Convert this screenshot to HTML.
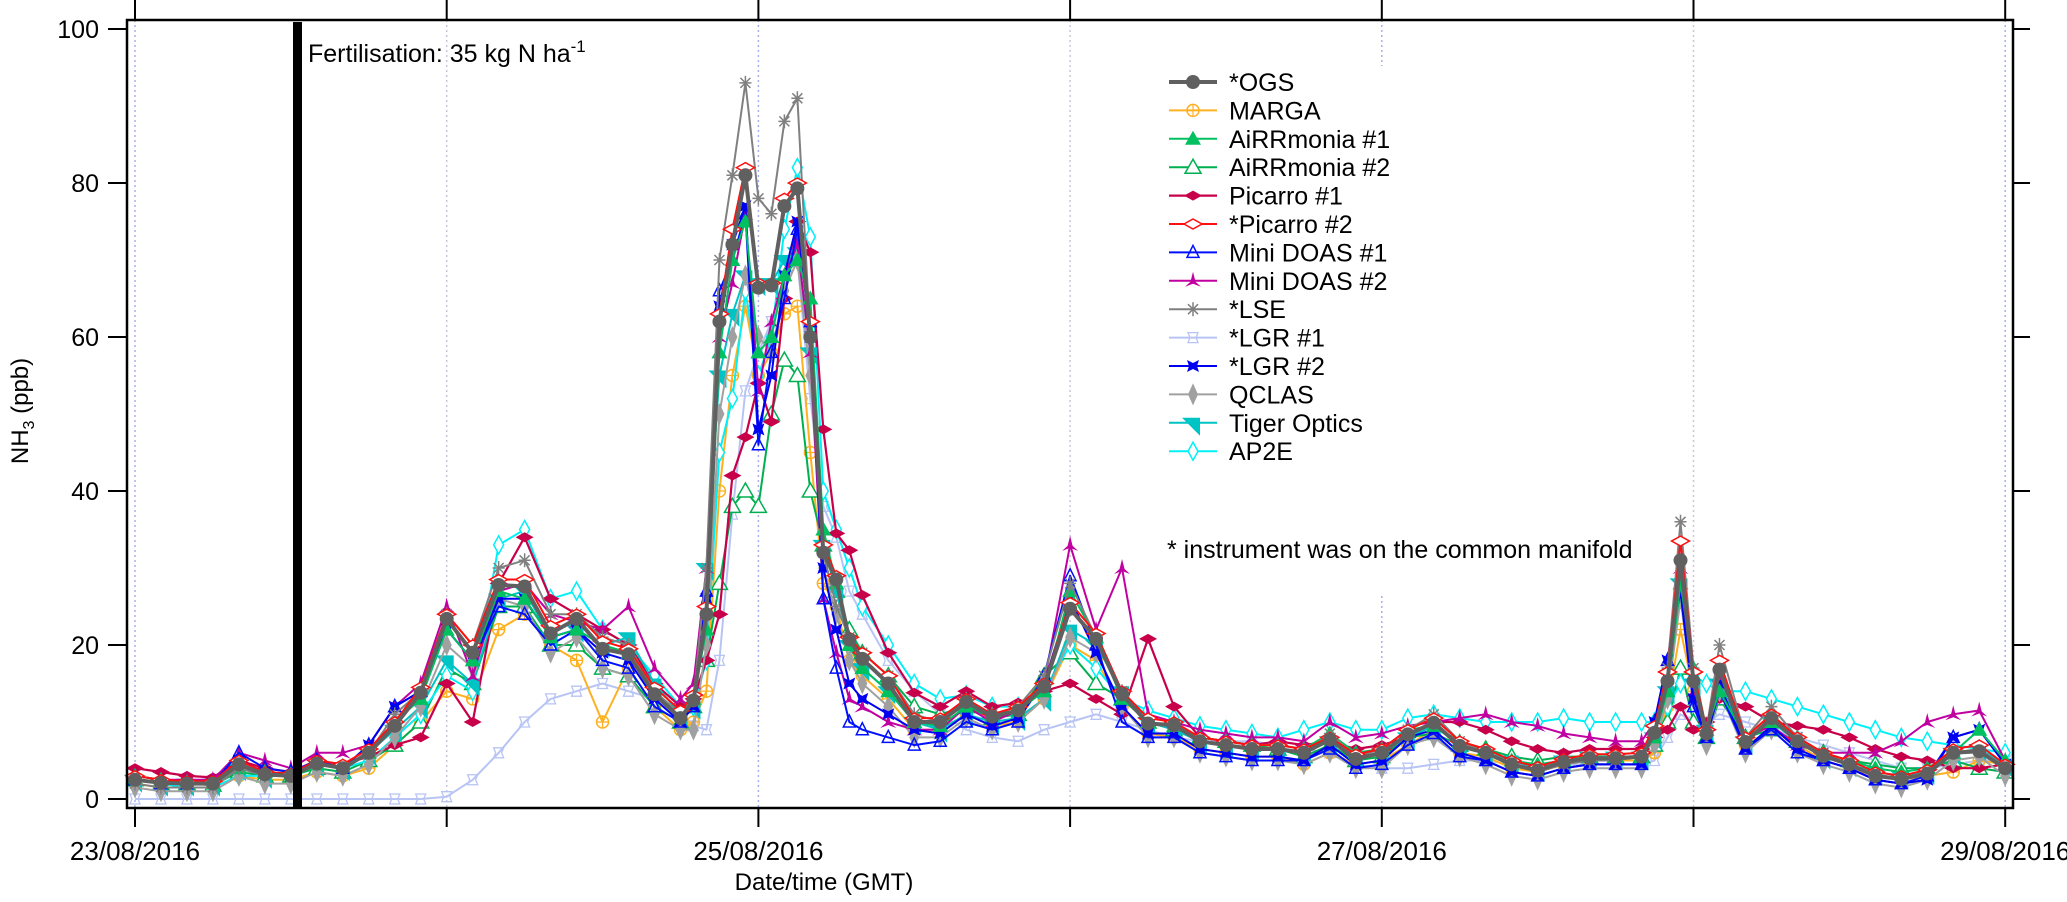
<!DOCTYPE html>
<html>
<head>
<meta charset="utf-8">
<style>
  html,body{margin:0;padding:0;background:#fff;}
  svg{display:block;}
  text{font-family:"Liberation Sans",Arial,sans-serif;fill:#000;}
</style>
</head>
<body>
<svg id="chart" width="2067" height="902" viewBox="0 0 2067 902" xmlns="http://www.w3.org/2000/svg">
  <g id="grid"></g>
  <g id="series"></g>
  <rect x="127" y="20" width="1886" height="788" fill="none" stroke="#000" stroke-width="2.5"/>
  <g id="axes"></g>
  <rect x="293" y="22" width="9" height="786" fill="#000"/>
  <text x="308" y="62" font-size="25">Fertilisation: 35 kg N ha<tspan dy="-10" font-size="17">-1</tspan></text>
  <text x="824" y="890" font-size="24" text-anchor="middle">Date/time (GMT)</text>
  <text transform="translate(28,411) rotate(-90)" font-size="24" text-anchor="middle">NH<tspan dy="6" font-size="16">3</tspan><tspan dy="-6"> (ppb)</tspan></text>
  <g id="legend"></g>
  <text x="1167" y="558" font-size="25">* instrument was on the common manifold</text>
</svg>
<script>
// ---- data (hours since 23/08/2016 00:00 GMT) ----
const hours = [0,2,4,6,8,10,12,14,16,18,20,22,24,26,28,30,32,34,36,38,40,42,
  43,44,45,46,47,48,49,50,51,52,53,54,55,56,
  58,60,62,64,66,68,70,72,74,76,78,80,82,84,86,88,90,92,94,96,98,100,102,104,106,108,110,112,114,116,
  117,118,119,120,121,122,
  124,126,128,130,132,134,136,138,140,142,144];
const seriesNames = ["*OGS","MARGA","AiRRmonia #1","AiRRmonia #2","Picarro #1","*Picarro #2","Mini DOAS #1","Mini DOAS #2","*LSE","*LGR #1","*LGR #2","QCLAS","Tiger Optics","AP2E"];
const ogs = [2.5,2.1,2,2,4.5,3.2,3,4.6,4,6,9.5,13.8,23.4,19,27.8,27.6,21.5,23.4,19.5,18.8,13.6,10.5,
  12.8,24,62,72,81,66.4,66.7,77,79.3,60,32,28.5,20.7,18.2,
  15,10,10,12.6,10.7,11.5,14.6,24.7,20.8,13.6,9.8,9.6,7.5,7,6.5,6.5,6,7.7,5.2,6,8.4,9.9,6.9,6,4.5,3.7,4.8,5.3,5.3,5.5,
  8.6,15.3,31,15.3,8.5,16.8,
  7.4,10.5,7.5,5.6,4.5,3,2.6,3.3,6,6.2,4];
const marga = [2,1.5,1.5,1.5,3,2.5,2.5,3.5,3,4,7,10,14,13,22,24,20,18,10,17,12,9,
  10,14,40,55,64,55,58,63,64,45,28,25,18,16,
  13,9,9,11,9.5,10,13,20,18,12,8.5,8,6.5,6,5.5,5.5,4.5,6,4.5,5,7,9,6,5.5,4,3.5,4.5,5,5,5,
  6,12,22,14,9,15,
  7,9,7,5,4,3,2.5,3,3.5,5,4.5];
const airr1 = [3,2.5,2.2,2,4,3.5,3.2,4.5,4.2,6,10,13,22,18,27,26,21,22,20,19,14,11,
  13,22,58,70,75,58,60,68,70,65,35,28,20,17,
  14,10,9.5,12,11,11.5,14,27,21,13,10,9.5,8,7.5,7,7,6.5,8.5,6,6.5,9,9.5,7.5,6.5,5,4.5,5,5.5,5.5,5.5,
  8,14,28,17,9,14,
  8,10,8,6,5,4,3.5,4,6,9,5];
const airr2 = [2.5,2,2,1.8,3.5,3,3,4,3.5,5,7,10,17,15,25,25,20,20,17,16,12,10,
  12,18,28,38,40,38,50,57,55,40,33,27,22,19,
  16,12,11,12,10.5,11,16,19,15,13,10,9,8,7.5,7,6.5,5.5,7,5,5.5,8,8.5,7,6.5,5.5,5,5.5,5.5,5.5,5.5,
  7,10,17,10,8,13,
  8,9,7.5,6,5,4.5,4,4,5,4,3.5];
const picarro1 = [4,3.5,3,2.8,5,4,3.5,5,4.5,5.5,7,8,15,10,28,34,26,24,22,20,15,12,
  13,18,24,42,47,54,49,65,75,71,48,34.5,32.3,26.5,
  19,13.8,12,14,12,12.5,14,15,13,11,20.8,12,8,7.5,7,7.5,7,7.5,6.5,7,8,10,10,9,7.5,6.5,6,6.5,6.5,6.5,
  8,9,12,9,10,13,
  12,10,9.5,9,8,6.5,5.5,5,4,4,4.5];
const picarro2 = [3,2.5,2.3,2.3,5,3.5,3.3,5,4.5,6.5,10,14.5,24,20,28.5,28.5,22.5,24,20.5,19.5,14.5,11.5,
  13.5,25,63,74,82,67,67,78,80,62,33,29,21,19,
  16,10.5,10.5,13,11,12,15,25.5,21.5,14,10.5,10,8,7.5,7,7,6.5,8,5.8,6.5,9,10.5,7.5,6.5,5,4.2,5.2,5.8,5.8,6,
  9.5,16.5,33.5,16.5,9,18,
  8,11,8,6,5,3.5,3,3.8,6.5,7,4.5];
const doas1 = [2.5,2,2,2,6,4,3.5,5,4,7,12,14,22,18,25,24,20,22,18,17,12,10,
  12,27,66,70,76,46,58,65,74,62,26,17,10,9,
  8,7,7.5,10,9,10,16,29,20,10,8,8,6,5.5,5,5,5,6.5,4,4.5,7,8.5,5.5,5,3.5,3,4,4.5,4.5,4.5,
  10,18,27,12,8,14,
  6.5,9,6,5,4,2.5,2,3,8,9,4.5];
const doas2 = [3,2.5,2.5,2.5,6,5,4,6,6,7,12,15,25,16,27,28,24,23,22,25,17,13,
  15,30,60,67,76,53,62,68,72,58,26,19,13,12,
  10,9,9,12,10,11.5,15,33,22,30,11,10,9,8.5,8,8,7.5,10,8,8.5,9.5,10,10.5,11,10,9.5,8.5,8,7.5,7.5,
  10,18,30,14,9,16,
  8,9.5,7,6,6,6,7.5,10,11,11.5,5];
const lse = [2,1.5,1.5,1.5,4,3,3,4.5,4,6,11,14,24,20,30,31,24,24,21,20,14,11,
  13,30,70,81,93,78,76,88,91,60,32,25,21,19,
  16,11,10,13,11,12,16,28,21,14,10,9.5,7.5,7,6.5,6.5,6,8.5,5.5,6.5,9,11,7.5,6,4.5,3.5,4.5,5,5,5.5,
  9,17,36,17,9,20,
  8,12,8,6,4.5,3,2.5,3.5,6,6.5,4];
const lgr1 = [0,0,0,0,0,0,0,0,0,0,0,0,0.3,2.5,6,10,13,14,15,14,13,10,
  9.5,9,18,37,53,58,62,68,70,52,38,34,27,24,
  18,14,11,9,8,7.5,9,10,11,10,9,8,7.5,7.5,7.5,7,6.5,6,4.5,4,4,4.5,5,5,4.5,4.5,4.5,4.5,4.5,4.5,
  5,8,11,10,10,11,
  10,9,8,7,6,5,4,4,4.5,5,5];
const lgr2 = [2.5,2,2,2,5,3.5,3,4.5,4,7,12,14,22,18,26,26,21,22,19,18,13,10,
  12,26,64,72,77,48,55,68,75,60,30,22,15,13,
  11,9,8.5,11,9.5,10.5,15,26,19,12,8.5,8.5,6.5,6,5.5,5.5,5,7,4.5,5,8,9,6,5,3.5,3,4,4.5,4.5,4.5,
  10,18,27,13,8,15,
  6.5,9.5,6.5,5,4,2.5,2,2.5,8,9,4.5];
const qclas = [1.5,1,1,1,3,2,2,3.5,3,4.5,8,12,20,17,26,25,19,21,17,16,11,9,
  9,20,50,60,68,60,58,66,70,55,30,24,18,15,
  12,8,8,10.5,9,10,13,21,19,12,8,8,6,5.5,5,5,4.5,6,4,4,7,8,5.5,4.5,3,2.5,3.5,4,4,4,
  7,13,26,13,7,14,
  6,9,6,4.5,3.5,2,1.5,2.5,5,5.5,3];
const tiger = [2.5,2,2,2,4,3,3,4.5,4,6,9,12,18,15,26,27,21,22,20,21,15,11,
  12,30,55,63,68,67,67,70,71,58,33,27,20,17,
  14,10,9,11,10,10.5,13,22,20,14,10,9,7.5,7,6.5,6.5,6,7.5,5.5,6,8,9.5,7,6,5,4,5,5.5,5.5,5.5,
  8,14,28,15,9,15,
  7.5,10,7.5,5.5,4.5,3.5,3,3.5,6,6.5,4.5];
const ap2e = [2.5,2,1.5,1.5,3,3,3,4.5,4,5,8,11,16,14,33,35,26,27,22,20,16,12,
  12,18,45,52,66,55,60,74,82,73,40,35,30,25,
  20,15,13,13.5,12,12,14,20,17,13,11.5,10.5,9.5,9,8.5,8,9,10,9,9,10.5,11,10.5,10,10,10,10.5,10,10,10,
  10,12,15,16,15,14,
  14,13,12,11,10,9,8,7.5,7,6.5,6];
const yTicks = [0,20,40,60,80,100];
const dayLabels = ["23/08/2016","","25/08/2016","","27/08/2016","","29/08/2016"];

// ---- scales ----
const X0 = 135, DAY = 311.7, Y0 = 799, PPU = 7.7;
function xs(h){ return X0 + h/24*DAY; }
function ys(v){ return Y0 - v*PPU; }

const NS = "http://www.w3.org/2000/svg";
function el(tag, attrs, parent){
  const e = document.createElementNS(NS, tag);
  for (const k in attrs) e.setAttribute(k, attrs[k]);
  parent.appendChild(e);
  return e;
}

// ---- grid & axes ----
const grid = document.getElementById('grid');
const axes = document.getElementById('axes');
dayLabels.forEach((lab, d) => {
  const x = xs(d*24);
  if (d === 4) {
    const g1 = el('line', {x1:x, x2:x, y1:20, y2:66, stroke:'#a8aef0', 'stroke-width':1.5, 'stroke-dasharray':'2,3'}, grid);
    
    
    const g2 = el('line', {x1:x, x2:x, y1:596, y2:808, stroke:'#a8aef0', 'stroke-width':1.5, 'stroke-dasharray':'2,3'}, grid);
    
    
  } else {
    const g = el('line', {x1:x, x2:x, y1:20, y2:808, stroke:(d%2===0?'#a8aef0':'#c8c8dc'), 'stroke-width':1.5, 'stroke-dasharray':'2,3'}, grid);
    
    
  }
  const tb = el('line', {x1:x, x2:x, y1:808, y2:827, stroke:'#000', 'stroke-width':2}, axes);
  
  
  const tt = el('line', {x1:x, x2:x, y1:0, y2:20, stroke:'#000', 'stroke-width':2}, axes);
  
  
  if (lab) {
    const t = el('text', {x:x, y:860, 'font-size':26, 'text-anchor':'middle'}, axes);
    
    
    t.textContent = lab;
  }
});
yTicks.forEach(v => {
  const y = ys(v);
  const tl = el('line', {x1:108, x2:127, y1:y, y2:y, stroke:'#000', 'stroke-width':2}, axes);
  
  
  const tr = el('line', {x1:2013, x2:2030, y1:y, y2:y, stroke:'#000', 'stroke-width':2}, axes);
  
  
  const t = el('text', {x:99, y:y+9, 'font-size':25, 'text-anchor':'end'}, axes);
  
  
  t.textContent = v;
});

// ---- markers ----
function marker(type, x, y, c, p){
  let m;
  switch(type){
    case 'circleF': m = el('circle', {cx:x, cy:y, r:7, fill:c}, p); break;
    case 'circleO':
      m = el('g', {}, p);
      el('circle', {cx:x, cy:y, r:6, fill:'none', stroke:c, 'stroke-width':1.5}, m);
      el('path', {d:`M${x-6},${y}H${x+6}M${x},${y-6}V${y+6}`, stroke:c, 'stroke-width':1.2}, m); break;
    case 'triF': m = el('polygon', {points:`${x},${y-8} ${x+8},${y+6} ${x-8},${y+6}`, fill:c}, p); break;
    case 'triO': m = el('polygon', {points:`${x},${y-8} ${x+8},${y+6} ${x-8},${y+6}`, fill:'#fff', stroke:c, 'stroke-width':1.5}, p); break;
    case 'triS': m = el('polygon', {points:`${x},${y-7} ${x+6},${y+5} ${x-6},${y+5}`, fill:'none', stroke:c, 'stroke-width':1.5}, p); break;
    case 'starTri': m = el('polygon', {points:`${x},${y-9} ${x+2.5},${y+1} ${x+8},${y+6} ${x},${y+3} ${x-8},${y+6} ${x-2.5},${y+1}`, fill:c}, p); break;
    case 'diaHF': m = el('polygon', {points:`${x-9},${y} ${x},${y-5} ${x+9},${y} ${x},${y+5}`, fill:c}, p); break;
    case 'diaHO': m = el('polygon', {points:`${x-9},${y} ${x},${y-5} ${x+9},${y} ${x},${y+5}`, fill:'#fff', stroke:c, 'stroke-width':1.5}, p); break;
    case 'diaVF': m = el('polygon', {points:`${x},${y-11} ${x+5},${y} ${x},${y+11} ${x-5},${y}`, fill:c}, p); break;
    case 'diaVO': m = el('polygon', {points:`${x},${y-9} ${x+5},${y} ${x},${y+9} ${x-5},${y}`, fill:'#fff', stroke:c, 'stroke-width':1.5}, p); break;
    case 'star':
      m = el('path', {d:`M${x-6},${y}H${x+6}M${x},${y-7}V${y+7}M${x-5},${y-5}L${x+5},${y+5}M${x-5},${y+5}L${x+5},${y-5}`, stroke:c, 'stroke-width':1.5, fill:'none'}, p); break;
    case 'hour': m = el('path', {d:`M${x-5},${y-5}H${x+5}L${x+3},${y}L${x+5},${y+5}H${x-5}L${x-3},${y}Z`, stroke:c, 'stroke-width':1.3, fill:'none'}, p); break;
    case 'bow': m = el('polygon', {points:`${x-6},${y-6} ${x},${y-3} ${x+6},${y-6} ${x+4},${y} ${x+6},${y+6} ${x},${y+3} ${x-6},${y+6} ${x-4},${y}`, fill:c}, p); break;
    case 'tiger': m = el('polygon', {points:`${x-11},${y-5} ${x+7},${y-5} ${x+7},${y+13}`, fill:c}, p); break;
  }
  return m;
}

const styles = [
  {data:ogs, color:'#606060', mk:'circleF', w:4},
  {data:marga, color:'#ffb020', mk:'circleO', w:2},
  {data:airr1, color:'#00c060', mk:'triF', w:2},
  {data:airr2, color:'#00b050', mk:'triO', w:2},
  {data:picarro1, color:'#c8004a', mk:'diaHF', w:2.2},
  {data:picarro2, color:'#ff1010', mk:'diaHO', w:2},
  {data:doas1, color:'#0010ff', mk:'triS', w:2},
  {data:doas2, color:'#c000a0', mk:'starTri', w:2},
  {data:lse, color:'#808080', mk:'star', w:2},
  {data:lgr1, color:'#b8c4f4', mk:'hour', w:2},
  {data:lgr2, color:'#0000f0', mk:'bow', w:2},
  {data:qclas, color:'#a0a0a0', mk:'diaVF', w:2},
  {data:tiger, color:'#00c4c4', mk:'tiger', w:2},
  {data:ap2e, color:'#00f0f8', mk:'diaVO', w:2}
];

const layer = document.getElementById('series');
const drawOrder = [9,1,3,13,4,12,11,7,6,10,2,8,5,0];
drawOrder.forEach(i => {
  const s = styles[i];
  const g = el('g', {}, layer);
  
  
  const pts = s.data.map((v, k) => xs(hours[k]).toFixed(1) + ',' + ys(v).toFixed(1)).join(' ');
  const line = el('polyline', {points:pts, fill:'none', stroke:s.color, 'stroke-width':s.w, 'stroke-linejoin':'round'}, g);
  
  
  s.data.forEach((v, k) => {
    const m = marker(s.mk, xs(hours[k]), ys(v), s.color, g);
    
    
  });
});

// ---- legend ----
const leg = document.getElementById('legend');
seriesNames.forEach((name, i) => {
  const s = styles[i];
  const y = 82 + i*28.4;
  const g = el('g', {}, leg);
  
  
  el('line', {x1:1169, x2:1217, y1:y, y2:y, stroke:s.color, 'stroke-width':s.w}, g);
  marker(s.mk, 1193, y, s.color, g);
  const t = el('text', {x:1229, y:y+9, 'font-size':25}, g);
  
  
  t.textContent = name;
});
</script>
</body>
</html>
